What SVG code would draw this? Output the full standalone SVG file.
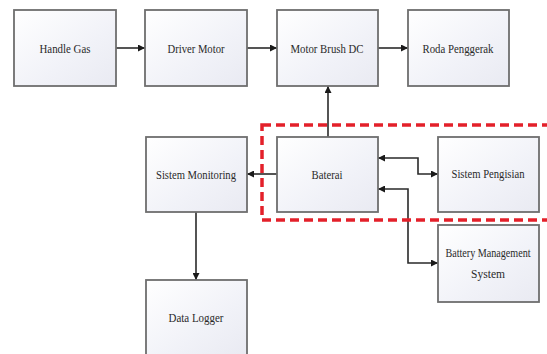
<svg xmlns="http://www.w3.org/2000/svg" width="547" height="354" viewBox="0 0 547 354">
<defs>
<linearGradient id="g" x1="0" y1="0" x2="1" y2="1">
<stop offset="0" stop-color="#ffffff"/>
<stop offset="0.6" stop-color="#f1f2f8"/>
<stop offset="1" stop-color="#e9eaf2"/>
</linearGradient>
<marker id="ah" viewBox="0 0 10 10" refX="10" refY="5" markerWidth="7" markerHeight="7" markerUnits="userSpaceOnUse" orient="auto-start-reverse">
<path d="M0,0 L10,5 L0,10 z" fill="#1a1a1a"/>
</marker>
<style>
.box{fill:url(#g);stroke:#6e6e6e;stroke-width:1.8}
.t{font-family:"Liberation Serif","Times New Roman",serif;font-size:13px;fill:#2a2a2a;text-anchor:middle;dominant-baseline:central}
.c{fill:none;stroke:#2a2a2a;stroke-width:1.6}
</style>
</defs>
<rect width="547" height="354" fill="#ffffff"/>
<g id="connectors">
<line class="c" x1="116" y1="48" x2="145" y2="48" marker-end="url(#ah)"/>
<line class="c" x1="247" y1="48" x2="277" y2="48" marker-end="url(#ah)"/>
<line class="c" x1="378" y1="48" x2="408" y2="48" marker-end="url(#ah)"/>
<line class="c" x1="328" y1="137" x2="328" y2="86" marker-end="url(#ah)"/>
<line class="c" x1="277" y1="174" x2="247" y2="174" marker-end="url(#ah)"/>
<line class="c" x1="196" y1="212" x2="196" y2="280" marker-end="url(#ah)"/>
<polyline class="c" points="378,158 418,158 418,174 438,174" marker-start="url(#ah)" marker-end="url(#ah)"/>
<polyline class="c" points="378,189 408,189 408,263 438,263" marker-start="url(#ah)" marker-end="url(#ah)"/>
</g>
<g id="handle-gas"><rect class="box" x="14" y="10" width="102" height="76"/><text class="t" x="65" y="48" textLength="51" lengthAdjust="spacingAndGlyphs">Handle Gas</text></g>
<g id="driver-motor"><rect class="box" x="145" y="10" width="102" height="76"/><text class="t" x="196" y="48" textLength="57" lengthAdjust="spacingAndGlyphs">Driver Motor</text></g>
<g id="motor-brush-dc"><rect class="box" x="277" y="10" width="101" height="76"/><text class="t" x="327" y="48" textLength="73" lengthAdjust="spacingAndGlyphs">Motor Brush DC</text></g>
<g id="roda-penggerak"><rect class="box" x="408" y="10" width="101" height="76"/><text class="t" x="458" y="48" textLength="71" lengthAdjust="spacingAndGlyphs">Roda Penggerak</text></g>
<g id="sistem-monitoring"><rect class="box" x="146" y="137" width="101" height="75"/><text class="t" x="196" y="174" textLength="80" lengthAdjust="spacingAndGlyphs">Sistem Monitoring</text></g>
<g id="baterai"><rect class="box" x="277" y="137" width="101" height="75"/><text class="t" x="327" y="174" textLength="31" lengthAdjust="spacingAndGlyphs">Baterai</text></g>
<g id="sistem-pengisian"><rect class="box" x="438" y="137" width="101" height="75"/><text class="t" x="488" y="173" textLength="73" lengthAdjust="spacingAndGlyphs">Sistem Pengisian</text></g>
<g id="bms"><rect class="box" x="438" y="225" width="101" height="77"/><text class="t" transform="translate(488,253) scale(0.78,1)" x="0" y="0">Battery Management</text><text class="t" x="488" y="273" textLength="34" lengthAdjust="spacingAndGlyphs">System</text></g>
<g id="data-logger"><rect class="box" x="146" y="280" width="101" height="76"/><text class="t" x="196" y="317" textLength="55" lengthAdjust="spacingAndGlyphs">Data Logger</text></g>
<g id="battery-group"><rect x="262" y="125" width="300" height="95" fill="none" stroke="#e3202a" stroke-width="3.5" stroke-dasharray="9 5"/></g>
</svg>
